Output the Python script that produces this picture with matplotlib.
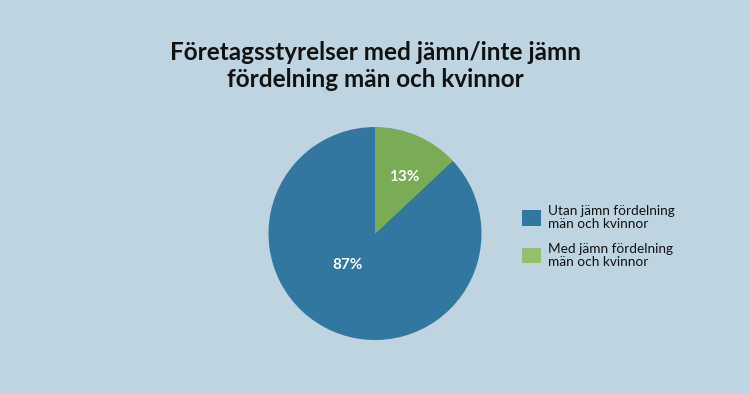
import matplotlib
matplotlib.use("Agg")
import matplotlib.pyplot as plt
import matplotlib.patches as mpatches

# Data
categories = ["Utan jämn fördelning\nmän och kvinnor",
              "Med jämn fördelning\nmän och kvinnor"]
values = [87, 13]
pct_labels = ["87%", "13%"]

TITLE = "Företagsstyrelser med jämn/inte jämn\nfördelning män och kvinnor"

C_BG = "#bed4e1"
C_BLUE = "#31779f"
C_GREEN = "#7aab55"
C_GREEN_LEG = "#93bf6e"

plt.rcParams["font.family"] = ["Lato", "DejaVu Sans"]

fig = plt.figure(figsize=(7.5, 3.94), dpi=100)
fig.patch.set_facecolor(C_BG)

fig.text(0.5, 0.833, TITLE, ha="center", va="center", fontsize=17.5,
         fontweight="bold", color="#111111", linespacing=1.22)

ax = fig.add_axes([0.358, 0.137, 0.284, 0.5406])
ax.set_facecolor(C_BG)
wedges, _ = ax.pie(values, colors=[C_BLUE, C_GREEN], startangle=90,
                   counterclock=True, radius=1.0,
                   wedgeprops=dict(linewidth=0))
ax.set_xlim(-1, 1)
ax.set_ylim(-1, 1)
ax.set_aspect("equal")
ax.axis("off")

# percentage labels
label_pos = [(-0.26, -0.30), (0.27, 0.53)]
for (x, y), txt in zip(label_pos, pct_labels):
    ax.text(x, y, txt, ha="center", va="center", color="white",
            fontsize=11, fontweight="bold")

handles = [mpatches.Patch(facecolor=C_BLUE, label=categories[0]),
           mpatches.Patch(facecolor=C_GREEN_LEG, label=categories[1])]
leg = fig.legend(handles=handles, loc="center left", bbox_to_anchor=(0.68, 0.40),
                 frameon=False, fontsize=9.8, handlelength=1.35, handleheight=1.35,
                 handletextpad=0.55, labelspacing=0.95, labelcolor="#111111")
for t in leg.get_texts():
    t.set_linespacing(1.08)

fig.savefig("out.png", dpi=100, facecolor=C_BG)
